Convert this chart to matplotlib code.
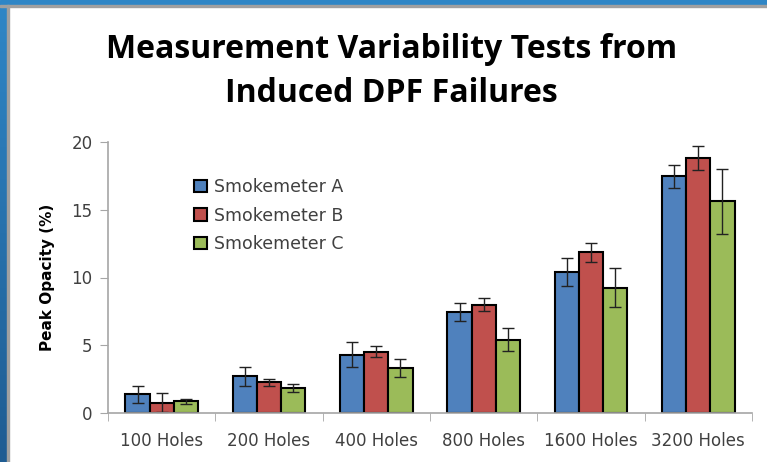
import numpy as np
import matplotlib.pyplot as plt
from matplotlib.patches import Rectangle
from matplotlib.colors import LinearSegmentedColormap

categories = ["100 Holes", "200 Holes", "400 Holes", "800 Holes", "1600 Holes", "3200 Holes"]
series = ["Smokemeter A", "Smokemeter B", "Smokemeter C"]
vals_a = [1.35, 2.7, 4.3, 7.45, 10.4, 17.5]
vals_b = [0.75, 2.25, 4.5, 8.0, 11.85, 18.85]
vals_c = [0.85, 1.8, 3.3, 5.4, 9.25, 15.65]
err_a = [0.6, 0.7, 0.95, 0.7, 1.05, 0.85]
err_b = [0.7, 0.27, 0.4, 0.45, 0.7, 0.9]
err_c = [0.17, 0.3, 0.65, 0.85, 1.45, 2.4]
colors = ["#4F81BD", "#C0504D", "#9BBB59"]

fig = plt.figure(figsize=(7.67, 4.62), dpi=100)

# slide frame (blue strips on top and left)
fig.patches.append(Rectangle((0, 1 - 5/462), 1, 5/462, transform=fig.transFigure,
                             color="#2F86C6", zorder=0))
fig.patches.append(Rectangle((0, 1 - 7/462), 1, 2/462, transform=fig.transFigure,
                             color="#A0A0A0", zorder=0))
gax = fig.add_axes([0, 0, 7/767, 1 - 5/462])
gax.imshow(np.linspace(0, 1, 100).reshape(-1, 1), aspect="auto",
           cmap=LinearSegmentedColormap.from_list("b", ["#2F86C6", "#1F5C92"]))
gax.axis("off")
fig.patches.append(Rectangle((7/767, 0), 2/767, 1 - 5/462, transform=fig.transFigure,
                             color="#A0A0A0", zorder=0))

ax = fig.add_axes([108/767, 1 - 412.7/462, 644/767, 270.4/462])
x = np.arange(len(categories))
w = 0.225
all_vals = [vals_a, vals_b, vals_c]
all_errs = [err_a, err_b, err_c]
for i in range(3):
    ax.bar(x + (i - 1) * w, all_vals[i], w, yerr=all_errs[i], color=colors[i],
           edgecolor="black", linewidth=1.5, label=series[i],
           error_kw=dict(ecolor="#222222", elinewidth=1, capsize=4, capthick=1))

ax.set_xlim(-0.5, len(categories) - 0.5)
ax.set_ylim(0, 20)
ax.set_yticks([0, 5, 10, 15, 20])
ax.set_xticks(x)
ax.set_xticklabels(categories)
ax.set_xticks(np.arange(-0.5, len(categories)), minor=True)
ax.tick_params(axis="x", which="major", length=0, pad=14, labelsize=12, labelcolor="#404040")
ax.tick_params(axis="x", which="minor", length=6, color="#A6A6A6", direction="out")
ax.tick_params(axis="y", length=6, color="#A6A6A6", labelsize=12, labelcolor="#404040", pad=5)
for s in ["top", "right"]:
    ax.spines[s].set_visible(False)
for s in ["left", "bottom"]:
    ax.spines[s].set_color("#A6A6A6")
    ax.spines[s].set_linewidth(1.2)

ax.set_ylabel("Peak Opacity (%)", fontsize=11, fontweight="bold", labelpad=12)

ax.legend(loc="upper left", bbox_to_anchor=(0.11, 0.925), frameon=False, fontsize=12.5,
          handlelength=0.7, handleheight=0.7, handletextpad=0.4, labelspacing=0.6,
          labelcolor="#404040")

fig.text(0.51, 1 - 50/462, "Measurement Variability Tests from", ha="center", va="center",
         fontsize=23, fontweight="bold", family="Open Sans")
fig.text(0.51, 1 - 93/462, "Induced DPF Failures", ha="center", va="center",
         fontsize=23, fontweight="bold", family="Open Sans")

fig.savefig("out.png", dpi=100)
